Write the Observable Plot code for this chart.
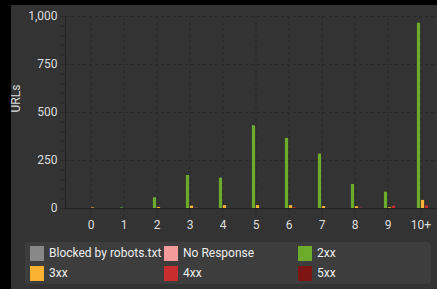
<!DOCTYPE html>
<html><head><meta charset="utf-8">
<script src="https://cdn.jsdelivr.net/npm/d3@7"></script>
<script src="https://cdn.jsdelivr.net/npm/@observablehq/plot@0.6"></script>
<style>
html,body{margin:0;padding:0;background:#000;overflow:hidden;width:437px;height:289px;}
#panel{position:absolute;left:11px;top:5px;width:426px;height:284px;background:#333333;}
#chart{position:absolute;left:0;top:0;width:447px;height:230px;}
#legend{position:absolute;left:25px;top:242px;width:406px;height:42px;background:#3d3d3d;border-radius:3px;font:12px Roboto,sans-serif;color:#eeeeee;}
.item{position:absolute;height:15px;line-height:15px;white-space:nowrap;}
.sw{position:absolute;left:0;top:0;width:14px;height:15px;}
.lb{position:absolute;left:19px;top:0;}
</style></head>
<body>
<div id="panel"></div>
<div id="chart"></div>
<div id="legend"></div>
<script>
const categories = ["0","1","2","3","4","5","6","7","8","9","10+"];
const series = ["Blocked by robots.txt","No Response","2xx","3xx","4xx","5xx"];
const colors = ["#888888","#f39a9a","#6cab2c","#fbb232","#c92d2d","#7c1414"];
const blocked    = [0,0,0,0,0,0,0,0,0,0,0];
const noResponse = [0,0,0,0,0,0,0,0,0,0,0];
const s2xx = [0,3,56,172,158,431,365,283,125,85,965];
const s3xx = [3,0,5,12,15,15,15,10,9,4,42];
const s4xx = [0,0,0,2,0,0,4,1,2,12,14];
const s5xx = [0,0,0,0,0,0,0,0,0,0,0];
const yTicks = [0,250,500,750,1000];
const yMinor = d3.range(0,1001,50);

const seriesValues = [blocked,noResponse,s2xx,s3xx,s4xx,s5xx];

const xRange = [70.1, 441.9];
const bw = (xRange[1]-xRange[0]) / categories.length;
const barW = 4;
const groupW = barW * series.length;

const dark = "#282828";
const barMarks = series.map((s,j)=>{
  const data = categories.map((c,i)=>({cat:c, series:s, value:seriesValues[j][i]}));
  const insetLeft = (bw-groupW)/2 + j*barW;
  return Plot.barY(data, {x:"cat", y:"value", fill:"series", insetLeft, insetRight: bw - insetLeft - barW});
});

const chart = Plot.plot({
  width:447, height:230,
  marginLeft:65, marginRight:0, marginTop:16, marginBottom:22,
  style:{background:"transparent", color:"#dddddd", fontFamily:"Roboto, sans-serif", fontSize:"12px", maxWidth:"none", overflow:"visible"},
  x:{domain:categories, range:xRange, padding:0, axis:null},
  y:{domain:[0,1000], axis:null},
  color:{domain:series, range:colors},
  marks:[
    Plot.gridY(yTicks, {stroke:dark, strokeOpacity:1, strokeDasharray:"3,3"}),
    Plot.gridX({stroke:dark, strokeOpacity:1, strokeDasharray:"3,3"}),
    Plot.axisX({anchor:"bottom", tickSize:9, tickPadding:3, stroke:dark, strokeDasharray:"3,3", fill:"#dddddd", label:null, fontSize:12}),
    Plot.axisY(yMinor, {tickSize:5, tickFormat:()=>"", stroke:dark, label:null}),
    Plot.axisY(yTicks, {tickSize:5, tickPadding:3, tickFormat:d3.format(","), stroke:dark, fill:"#dddddd", label:null, fontSize:12}),
    Plot.ruleY([0], {stroke:"#222222"}),
    Plot.frame({anchor:"left", stroke:"#222222"}),
    Plot.text(["URLs"], {frameAnchor:"left", rotate:-90, dx:-49, fill:"#dddddd", fontSize:12}),
    ...barMarks
  ]
});
document.getElementById("chart").appendChild(chart);

const legend = document.getElementById("legend");
series.forEach((s,j)=>{
  const col = j%3, row = Math.floor(j/3);
  const it = document.createElement("div");
  it.className="item";
  it.style.left = (5 + col*134) + "px";
  it.style.top = (4 + row*19.5) + "px";
  it.innerHTML = `<div class="sw" style="background:${colors[j]}"></div><div class="lb">${s}</div>`;
  legend.appendChild(it);
});
</script>
</body></html>
